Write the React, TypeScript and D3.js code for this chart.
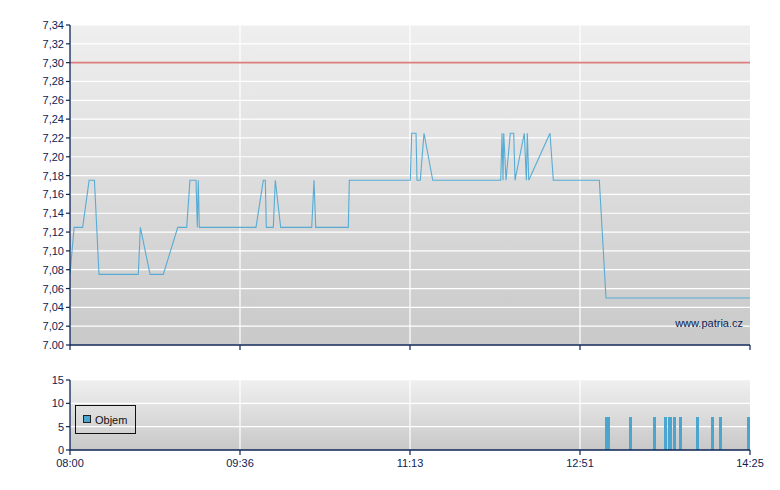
import React from "react";
import * as d3 from "d3";

// ---- data ----
const priceTimes = [
  "08:00:00", "08:02:20", "08:07:10", "08:10:50", "08:13:50", "08:16:25", "08:38:40", "08:39:50",
  "08:45:20", "08:52:50", "09:01:00", "09:06:05", "09:07:55", "09:11:20", "09:12:05", "09:12:38",
  "09:13:13", "09:45:18", "09:49:27", "09:50:35", "09:51:09", "09:55:06", "09:56:14", "09:59:17",
  "10:16:51", "10:18:09", "10:19:07", "10:37:35", "10:38:09", "11:12:40", "11:13:28", "11:15:55",
  "11:16:28", "11:18:20", "11:20:26", "11:25:22", "12:03:52", "12:04:36", "12:05:10", "12:05:34",
  "12:06:52", "12:09:18", "12:11:13", "12:11:57", "12:17:13", "12:18:22", "12:18:56", "12:19:44",
  "12:31:46", "12:33:38", "12:59:41", "13:03:28", "14:25:00",
];
const priceValues = [
  7.075, 7.125, 7.125, 7.175, 7.175, 7.075, 7.075, 7.125,
  7.075, 7.075, 7.125, 7.125, 7.175, 7.175, 7.125, 7.175,
  7.125, 7.125, 7.175, 7.175, 7.125, 7.125, 7.175, 7.125,
  7.125, 7.175, 7.125, 7.125, 7.175, 7.175, 7.225, 7.225,
  7.175, 7.175, 7.225, 7.175, 7.175, 7.225, 7.175, 7.225,
  7.175, 7.225, 7.225, 7.175, 7.225, 7.175, 7.225, 7.175,
  7.225, 7.175, 7.175, 7.05, 7.05,
];
const referencePrice = 7.3;

const volumeTimes = [
  "13:03:46", "13:04:54", "13:17:22", "13:30:57", "13:37:10", "13:39:25", "13:40:00",
  "13:42:16", "13:45:40", "13:55:18", "14:03:47", "14:08:19", "14:23:53",
];
const volumeValues = [7, 7, 7, 7, 7, 7, 7, 7, 7, 7, 7, 7, 7];

const priceTicks = [
  7.0, 7.02, 7.04, 7.06, 7.08, 7.1, 7.12, 7.14, 7.16, 7.18,
  7.2, 7.22, 7.24, 7.26, 7.28, 7.3, 7.32, 7.34,
];
const priceTickLabels = [
  "7.00", "7,02", "7,04", "7,06", "7,08", "7,10", "7,12", "7,14", "7,16", "7,18",
  "7,20", "7,22", "7,24", "7,26", "7,28", "7,30", "7,32", "7,34",
];
const volumeTicks = [0, 5, 10, 15];
const xTickLabels = ["08:00", "09:36", "11:13", "12:51", "14:25"];
const sessionStart = "08:00:00";
const sessionEnd = "14:25:00";
const legendLabel = "Objem";
const watermark = "www.patria.cz";

// ---- helpers ----
const toMin = (s: string) => {
  const [h, m, sec] = s.split(":").map(Number);
  return h * 60 + m + (sec || 0) / 60;
};

const W = 780;
const H = 490;
const L = 70;
const R = 750;
const mainTop = 25;
const mainBottom = 345;
const volTop = 380;
const volBottom = 450;

const AXIS = "#0c2455";
const TEXT = "#0c2455";
const LINE = "#58acd4";
const BAR = "#4aa5cf";
const RED = "#dc7c7e";
const FONT = "Arial, 'Liberation Sans', sans-serif";

export default function App() {
  const x = d3.scaleLinear().domain([toMin(sessionStart), toMin(sessionEnd)]).range([L, R]);
  const y = d3.scaleLinear().domain([7.0, 7.34]).range([mainBottom, mainTop]);
  const yv = d3.scaleLinear().domain([0, 15]).range([volBottom, volTop]);

  const xTickPos = xTickLabels.map((_, i) =>
    x.invert(L + ((R - L) * i) / (xTickLabels.length - 1))
  );

  const pts = priceTimes.map((t, i) => [toMin(t), priceValues[i]] as [number, number]);
  const line = d3
    .line<[number, number]>()
    .x((d) => x(d[0]))
    .y((d) => y(d[1]))
    .curve(d3.curveLinear);

  const barW = 3;

  return (
    <svg
      width={W}
      height={H}
      style={{ position: "absolute", left: 0, top: 0, background: "#fff" }}
      fontFamily={FONT}
    >
      <defs>
        <linearGradient id="gMain" x1="0" y1="0" x2="0" y2="1">
          <stop offset="0" stopColor="#efefef" />
          <stop offset="1" stopColor="#c9c9c9" />
        </linearGradient>
        <linearGradient id="gVol" x1="0" y1="0" x2="0" y2="1">
          <stop offset="0" stopColor="#f0f0f0" />
          <stop offset="1" stopColor="#c8c8c8" />
        </linearGradient>
        <clipPath id="clipMain">
          <rect x={L} y={mainTop} width={R - L} height={mainBottom - mainTop} />
        </clipPath>
      </defs>

      {/* main plot background */}
      <rect x={L} y={mainTop} width={R - L} height={mainBottom - mainTop} fill="url(#gMain)" />
      {priceTicks.map((t) => (
        <line key={"hg" + t} x1={L} x2={R} y1={y(t)} y2={y(t)} stroke="#fff" strokeWidth={1.2} />
      ))}
      {xTickPos.slice(1, -1).map((t, i) => (
        <line key={"vg" + i} x1={x(t)} x2={x(t)} y1={mainTop} y2={mainBottom} stroke="#fff" strokeWidth={1.2} />
      ))}
      {/* reference line */}
      <line x1={L} x2={R} y1={y(referencePrice)} y2={y(referencePrice)} stroke={RED} strokeWidth={1.6} />
      {/* price line */}
      <path d={line(pts) || ""} fill="none" stroke={LINE} strokeWidth={1.1} clipPath="url(#clipMain)" />
      <text x={743} y={327} fontSize={11} fill={TEXT} textAnchor="end">
        {watermark}
      </text>

      {/* main axes */}
      <line x1={L} x2={L} y1={mainTop} y2={mainBottom} stroke={AXIS} strokeWidth={1.3} />
      <line x1={L} x2={R} y1={mainBottom} y2={mainBottom} stroke={AXIS} strokeWidth={1.3} />
      {priceTicks.map((t, i) => (
        <g key={"yt" + t}>
          <line x1={L - 4} x2={L} y1={y(t)} y2={y(t)} stroke={AXIS} strokeWidth={1.2} />
          <text x={L - 6} y={y(t) + 4} fontSize={11} fill={TEXT} textAnchor="end">
            {priceTickLabels[i]}
          </text>
        </g>
      ))}
      {xTickPos.map((t, i) => (
        <line key={"xt" + i} x1={x(t)} x2={x(t)} y1={mainBottom} y2={mainBottom + 5} stroke={AXIS} strokeWidth={1.2} />
      ))}

      {/* volume plot */}
      <rect x={L} y={volTop} width={R - L} height={volBottom - volTop} fill="url(#gVol)" />
      {volumeTicks.slice(1).map((t) => (
        <line key={"vhg" + t} x1={L} x2={R} y1={yv(t)} y2={yv(t)} stroke="#fff" strokeWidth={1.2} opacity={t === 15 ? 0.6 : 1} />
      ))}
      {xTickPos.slice(1, -1).map((t, i) => (
        <line key={"vvg" + i} x1={x(t)} x2={x(t)} y1={volTop} y2={volBottom} stroke="#fff" strokeWidth={1.2} />
      ))}
      {volumeTimes.map((t, i) => (
        <rect
          key={"b" + i}
          x={Math.min(Math.round(x(toMin(t)) - barW / 2), R - barW)}
          y={Math.round(yv(volumeValues[i]))}
          width={barW}
          height={volBottom - Math.round(yv(volumeValues[i]))}
          fill={BAR}
        />
      ))}
      <line x1={L} x2={L} y1={volTop} y2={volBottom} stroke={AXIS} strokeWidth={1.3} />
      <line x1={L} x2={R} y1={volBottom} y2={volBottom} stroke={AXIS} strokeWidth={1.3} />
      {volumeTicks.map((t) => (
        <g key={"vyt" + t}>
          <line x1={L - 4} x2={L} y1={yv(t)} y2={yv(t)} stroke={AXIS} strokeWidth={1.2} />
          <text x={L - 6} y={yv(t) + 4} fontSize={11} fill={TEXT} textAnchor="end">
            {t}
          </text>
        </g>
      ))}
      {xTickPos.map((t, i) => (
        <g key={"vxt" + i}>
          <line x1={x(t)} x2={x(t)} y1={volBottom} y2={volBottom + 5} stroke={AXIS} strokeWidth={1.2} />
          <text x={x(t)} y={467} fontSize={11} fill={TEXT} textAnchor="middle">
            {xTickLabels[i]}
          </text>
        </g>
      ))}

      {/* legend */}
      <rect x={75.5} y={405.5} width={60} height={28} fill="none" stroke="#111" strokeWidth={1} />
      <rect x={83.5} y={415.5} width={7} height={7} fill={BAR} stroke="#222" strokeWidth={1} />
      <text x={95} y={424} fontSize={11} fill="#111">
        {legendLabel}
      </text>
    </svg>
  );
}
